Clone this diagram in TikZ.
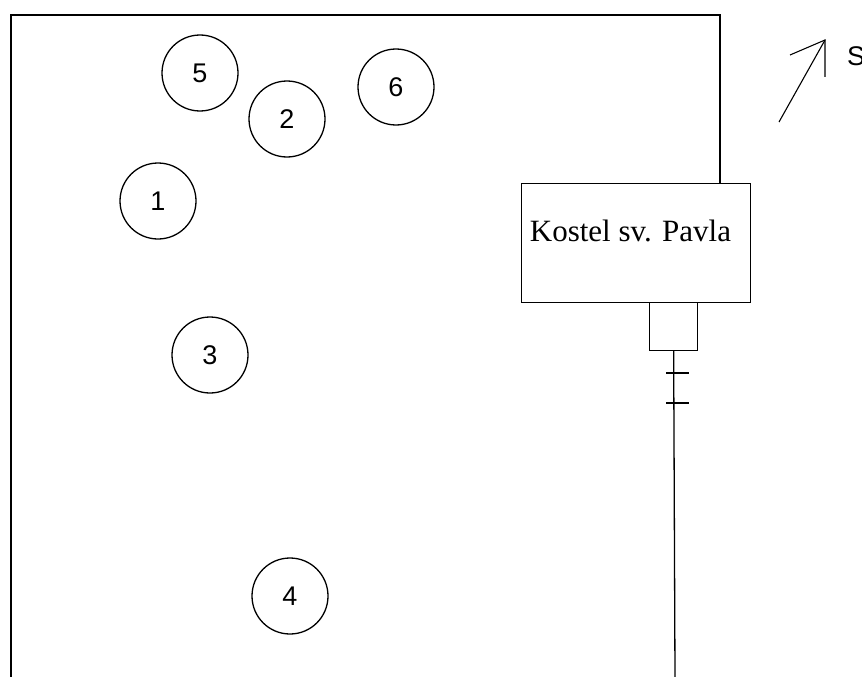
\documentclass[tikz,border=0pt]{standalone}
\usepackage{fontspec}
\setmainfont{Liberation Serif}
\newfontfamily\digitfont{Liberation Sans}
\begin{document}
\begin{tikzpicture}[x=1pt,y=-1pt,
  wall/.style={line width=1.3pt, line cap=rect},
  tree/.style={draw, circle, line width=1.3pt, minimum size=76pt, inner sep=0pt,
    font=\digitfont\fontsize{27}{30}\selectfont},
  building/.style={draw, rectangle, line width=1.3pt, inner sep=0pt, anchor=north west},
  churchtext/.style={font=\fontsize{31}{36}\selectfont, inner sep=0pt},
  compass/.style={line width=1.1pt}
]
\useasboundingbox (0,0) rectangle (862,677);
\fill[white] (0,0) rectangle (862,677);

% buildings
\node[building, minimum width=229pt, minimum height=119pt] (church) at (521,183) {};
\node[building, minimum width=48pt, minimum height=48pt] (porch) at (649,302) {};
\node[churchtext] (churchlbl) at (630.5,231) {Kostel sv. Pavla};

% wall
\coordinate (wallbl) at (11,677);
\coordinate (walltl) at (11,15);
\coordinate (walltr) at (720,15);
\coordinate (wallin) at (720,183);
\draw[wall] (wallbl) -- (walltl) -- (walltr) -- (wallin);

% path from porch
\coordinate (pathend) at (675,677);
\draw[wall] (porch.south) -- (pathend);
\coordinate (tickA) at (675,373);
\coordinate (tickB) at (675,403);
\draw[wall] ([xshift=-8pt]tickA) -- ([xshift=13pt]tickA);
\draw[wall] ([xshift=-8pt]tickB) -- ([xshift=13pt]tickB);

% trees
\node[tree] (t5) at (200,73) {5};
\node[tree] (t2) at (287,119) {2};
\node[tree] (t6) at (396,87) {6};
\node[tree] (t1) at (158,201) {1};
\node[tree] (t3) at (210,355) {3};
\node[tree] (t4) at (290,596) {4};

% north arrow
\coordinate (nstart) at (779,122);
\coordinate (ntip) at (825,40);
\coordinate (nbarbL) at (790,55);
\coordinate (nbarbR) at (825,77);
\draw[compass] (nstart) -- (ntip);
\draw[compass] (nbarbL) -- (ntip) -- (nbarbR);
\node[font=\digitfont\fontsize{27}{30}\selectfont, anchor=west, inner sep=0pt] (north) at (847,56) {S};
\end{tikzpicture}
\end{document}
